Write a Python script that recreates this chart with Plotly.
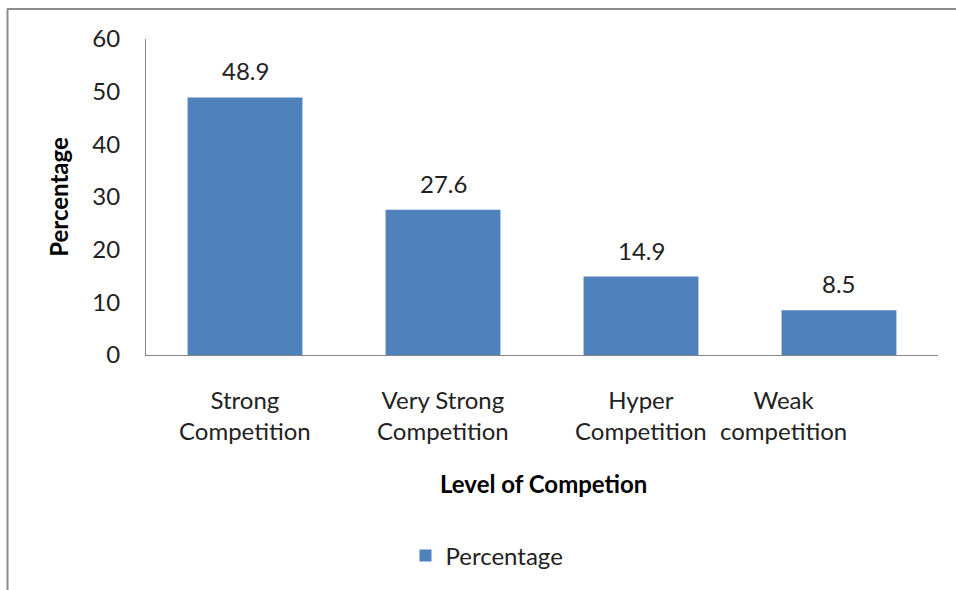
import plotly.graph_objects as go

categories = ["Strong<br>Competition", "Very Strong<br>Competition", "Hyper<br>Competition", "Weak<br>competition"]
values = [48.9, 27.6, 14.9, 8.5]
y_ticks = [0, 10, 20, 30, 40, 50, 60]
label_xshift = [0, 0, 0, -56]

FONT = "Lato"
FS = 24
L, R, T, B = 146, 18, 39, 235
W, H = 956, 590
pw = W - L - R
ph = H - T - B

def px_x(px):
    return (px - L) / pw

def px_y(py):
    return (H - B - py) / ph

fig = go.Figure()
fig.add_trace(go.Bar(
    x=categories, y=values, name="Percentage",
    marker=dict(color="#4f81bd", line=dict(width=0)),
))

annotations = [dict(x=c, y=v, xref="x", yref="y", text=f"{v:.1f}", showarrow=False,
                    yanchor="bottom", yshift=10,
                    font=dict(size=FS, family=FONT, color="#222"))
               for c, v in zip(categories, values)]
annotations += [dict(x=c, y=0, xref="x", yref="y", text=c, showarrow=False,
                     yanchor="top", yshift=-28, xshift=s, align="center",
                     font=dict(size=FS, family=FONT, color="#222"))
                for c, s in zip(categories, label_xshift)]
annotations.append(dict(text="<b>Level of Competion</b>", x=px_x(543), y=px_y(483), xref="paper", yref="paper",
                        xanchor="center", yanchor="middle",
                        showarrow=False, font=dict(size=FS, family=FONT, color="#000")))

fig.update_layout(
    width=W, height=H,
    margin=dict(l=L, r=R, t=T, b=B),
    paper_bgcolor="white", plot_bgcolor="white",
    bargap=0.42,
    showlegend=True,
    legend=dict(orientation="h", x=px_x(487), xanchor="center", y=px_y(556), yanchor="middle",
                font=dict(size=FS, family=FONT, color="#222"), itemwidth=30),
    font=dict(family=FONT, color="#222"),
    xaxis=dict(showline=True, linecolor="#868686", linewidth=1, ticks="",
               showticklabels=False, showgrid=False),
    yaxis=dict(range=[0, 60], tickvals=y_ticks, showline=True, linecolor="#868686", linewidth=1,
               ticks="", showgrid=False, zeroline=False, ticklabelstandoff=20,
               tickfont=dict(size=FS, family=FONT, color="#222"),
               title=dict(text="<b>Percentage</b>", font=dict(size=FS, family=FONT, color="#000"), standoff=16)),
    annotations=annotations,
    shapes=[
        dict(type="line", xref="paper", yref="paper", x0=px_x(7.5), x1=px_x(7.5), y0=px_y(9), y1=px_y(590),
             line=dict(color="#8c8c8c", width=2)),
        dict(type="line", xref="paper", yref="paper", x0=px_x(7), x1=px_x(956), y0=px_y(9), y1=px_y(9),
             line=dict(color="#8c8c8c", width=2)),
    ],
)

fig.write_html("out.html")
